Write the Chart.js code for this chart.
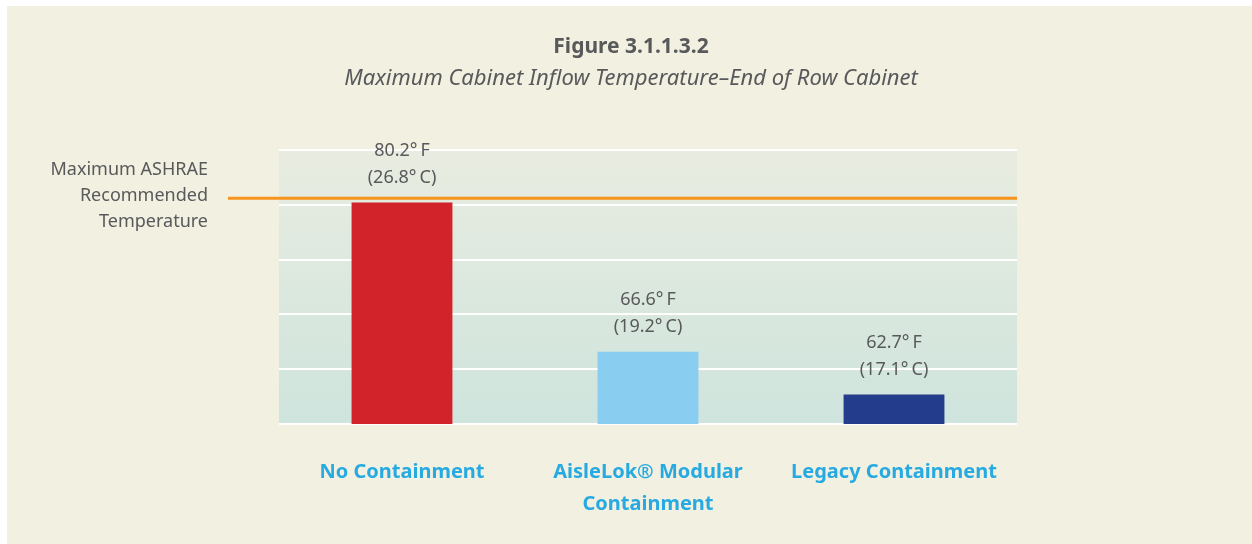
<!doctype html>
<html lang="en">
<head>
	<meta charset="utf-8">
	<title>Figure 3.1.1.3.2</title>
	<style>
		* {
			margin: 0;
			padding: 0;
		}

		body {
			background: #ffffff;
			width: 1252px;
			height: 544px;
			overflow: hidden;
			position: relative;
		}

		.panel {
			position: absolute;
			left: 7px;
			top: 6px;
			right: 0;
			bottom: 0;
			background: #f2f0e0;
		}

		.chartBox {
			position: absolute;
			left: 0;
			top: 0;
			width: 1252px;
			height: 544px;
		}
	</style>
</head>
<body>
	<div class="panel"></div>
	<div class="chartBox">
		<canvas id="tempChart"></canvas>
	</div>
	<script src="https://cdn.jsdelivr.net/npm/chart.js"></script>
	<script>
		const categories = [
			'No Containment',
			['AisleLok\u00AE Modular', 'Containment'],
			'Legacy Containment'
		]
		const tempF = [80.2, 66.6, 62.7]
		const tempC = [26.8, 19.2, 17.1]
		const barColors = ['#d2232a', '#89cdf1', '#233d8c']
		const ashraeMaxF = 80.6
		const yTicks = [60, 85, 5] // min, max, step

		const grey = '#58595b'
		const fontFam = '"Noto Sans", "Open Sans", sans-serif'

		// background of plot area, the ASHRAE line and all the loose texts
		const decorPlugin = {
			id: 'decor',
			beforeDraw(chart) {
				const { ctx, chartArea: a } = chart
				const g = ctx.createLinearGradient(0, a.top, 0, a.bottom)
				g.addColorStop(0, '#e9ece0')
				g.addColorStop(1, '#cee4dd')
				ctx.save()
				ctx.fillStyle = g
				ctx.fillRect(a.left, a.top, a.right - a.left, a.bottom - a.top)
				ctx.restore()
			},
			afterDatasetsDraw(chart) {
				const { ctx, chartArea: a } = chart
				const y = chart.scales.y.getPixelForValue(ashraeMaxF)
				ctx.save()
				ctx.strokeStyle = '#f7941d'
				ctx.lineWidth = 3
				ctx.beginPath()
				ctx.moveTo(228, y)
				ctx.lineTo(a.right, y)
				ctx.stroke()

				ctx.fillStyle = grey
				ctx.textBaseline = 'middle'
				ctx.textAlign = 'right'
				ctx.font = '18px ' + fontFam
				const side = ['Maximum ASHRAE', 'Recommended', 'Temperature']
				side.forEach((t, i) => ctx.fillText(t, 208, y - 28 + i * 26))

				// titles
				ctx.textAlign = 'center'
				ctx.font = 'bold 21px ' + fontFam
				ctx.fillText('Figure 3.1.1.3.2', 631, 47)
				ctx.font = 'italic 22px ' + fontFam
				ctx.fillText('Maximum Cabinet Inflow Temperature\u2013End of Row Cabinet', 631, 79)

				// value labels
				ctx.font = '18px ' + fontFam
				const meta = chart.getDatasetMeta(0)
				meta.data.forEach((bar, i) => {
					ctx.fillText(tempF[i].toFixed(1) + '\u00B0\u2009F', bar.x, bar.y - 52)
					ctx.fillText('(' + tempC[i].toFixed(1) + '\u00B0\u2009C)', bar.x, bar.y - 25)
				})
				ctx.restore()
			}
		}

		const data = {
			labels: categories,
			datasets: [{
				data: tempF,
				backgroundColor: barColors,
				barPercentage: 0.82,
				categoryPercentage: 0.5,
				borderWidth: 0
			}]
		}

		const config = {
			type: 'bar',
			data: data,
			options: {
				responsive: false,
				animation: false,
				layout: {
					padding: { left: 279, right: 235, top: 150, bottom: 0 }
				},
				plugins: {
					legend: { display: false },
					tooltip: { enabled: false }
				},
				scales: {
					x: {
						grid: { display: false, drawTicks: false },
						border: { display: false },
						ticks: {
							color: '#27aae1',
							padding: 32,
							font: { family: fontFam, size: 20, weight: 'bold', lineHeight: 1.6 }
						},
						afterFit: s => { s.height = 120 }
					},
					y: {
						min: yTicks[0],
						max: yTicks[1],
						ticks: { display: false, stepSize: yTicks[2] },
						grid: { color: '#ffffff', lineWidth: 2, drawTicks: false },
						border: { display: false },
						afterFit: s => { s.width = 0 }
					}
				}
			},
			plugins: [decorPlugin]
		}

		const canvas = document.getElementById('tempChart')
		canvas.width = 1252
		canvas.height = 544
		const tempChart = new Chart(canvas, config)
	</script>
</body>
</html>
